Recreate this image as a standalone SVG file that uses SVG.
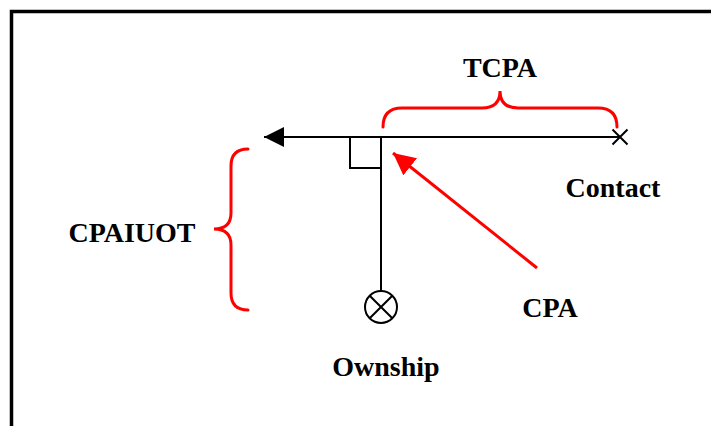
<svg xmlns="http://www.w3.org/2000/svg" width="711" height="426" viewBox="0 0 711 426">
<defs>
<style>
.lbl{font-family:"Liberation Serif","Times New Roman",serif;font-weight:bold;font-size:28px;fill:#000;text-anchor:middle}
.blk{fill:none;stroke:#000;stroke-width:2}
.red{fill:none;stroke:#f00;stroke-width:3;stroke-linecap:round}
</style>
<marker id="ah" markerUnits="userSpaceOnUse" markerWidth="22" markerHeight="22" refX="20" refY="10" orient="auto">
<path d="M0,0 L20,10 L0,20 Z" fill="#000"/>
</marker>
<marker id="rh" markerUnits="userSpaceOnUse" markerWidth="24" markerHeight="24" refX="22" refY="11" orient="auto">
<path d="M0,0 L22,11 L0,22 Z" fill="#f00"/>
</marker>
</defs>
<rect width="711" height="426" fill="#fff"/>
<path d="M11.5,426 V11.5 H711" fill="none" stroke="#000" stroke-width="3.5"/>
<g id="connectors">
<line class="blk" x1="620" y1="137" x2="264" y2="137" marker-end="url(#ah)"/>
<line class="blk" x1="381" y1="137" x2="381" y2="291"/>
<path class="blk" d="M350,137 V168 H381"/>
<line x1="537" y1="268" x2="393" y2="153" stroke="#f00" stroke-width="3" marker-end="url(#rh)"/>
</g>
<g id="contact">
<path d="M612.5,129.5 L627.5,144.5 M627.5,129.5 L612.5,144.5" stroke="#000" stroke-width="2" fill="none"/>
<text class="lbl" x="613" y="197">Contact</text>
</g>
<g id="ownship">
<circle cx="381" cy="307" r="16" class="blk"/>
<path d="M369.7,295.7 L392.3,318.3 M392.3,295.7 L369.7,318.3" stroke="#000" stroke-width="2"/>
<text class="lbl" x="386" y="376">Ownship</text>
</g>
<g id="tcpa">
<path class="red" d="M383,127 Q383,108 402,108 H482 Q500,108 500,91 Q500,108 518,108 H598 Q617,108 617,127"/>
<text class="lbl" x="500" y="77">TCPA</text>
</g>
<g id="cpaiuot">
<path class="red" d="M248,149 Q231,149 231,166 V213 Q231,229 214,229 Q231,229 231,245 V293 Q231,310 248,310"/>
<text class="lbl" x="132" y="242">CPAIUOT</text>
</g>
<g id="cpa">
<text class="lbl" x="550" y="317">CPA</text>
</g>
</svg>
